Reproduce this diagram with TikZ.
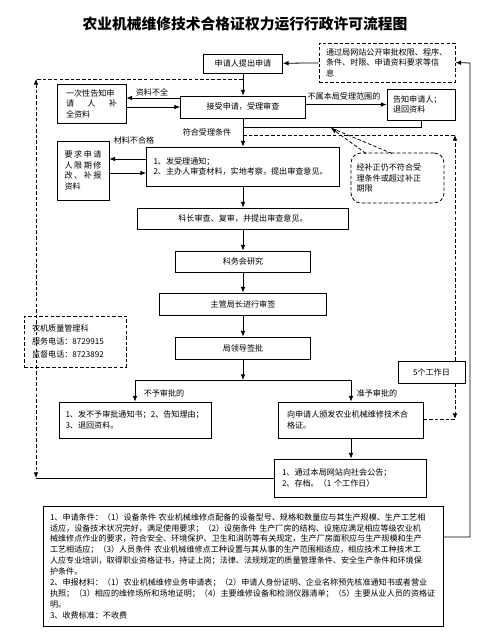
\documentclass[tikz,border=0pt]{standalone}
\usepackage{fontspec}
\setmainfont{Noto Sans CJK SC}
\usetikzlibrary{shapes, positioning, arrows.meta}

\begin{document}
\begin{tikzpicture}[
    x=0.05cm, y=-0.05cm,
    every node/.style={font=\fontsize{11.5}{15}\selectfont, text=black},
    proc/.style={rectangle, draw=black, line width=1.1pt, fill=none, text centered},
    info/.style={rectangle, draw=black, line width=1.1pt, dash pattern=on 5pt off 3pt,
        fill=none, align=left},
    answer/.style={rectangle, draw=none, fill=none, inner sep=1pt, text=black},
    link/.style={line width=1.1pt, ->},
    plain/.style={line width=1.1pt},
    dline/.style={line width=1.1pt, dash pattern=on 5pt off 3pt},
    >={Latex[length=8pt, width=6.5pt]}
]
\useasboundingbox (0,0) rectangle (498,635);

\node (Title) at (245,24) [font=\fontsize{21}{25}\selectfont\bfseries] {农业机械维修技术合格证权力运行行政许可流程图};

% main column
\node (Apply) [proc, minimum width=3.95cm, minimum height=0.95cm] at (243,63.5) {申请人提出申请};
\node (Accept) [proc, minimum width=6.25cm, minimum height=1.1cm] at (243,107) {接受申请，受理审查};
\node (Check) [proc, minimum width=9.65cm, minimum height=1.95cm, text width=8.95cm,
    align=left, inner xsep=0.35cm] at (243,166.5) {1、发受理通知；\\2、主办人审查材料，实地考察，提出审查意见。\\[-4pt]};
\node (Chief) [proc, minimum width=10.55cm, minimum height=1.05cm] at (243,218.5) {科长审查、复审，并提出审查意见。};
\node (Meet) [proc, minimum width=6.75cm, minimum height=1.05cm] at (243,261.5) {科务会研究};
\node (Sign) [proc, minimum width=8.35cm, minimum height=1.1cm] at (243,304) {主管局长进行审签};
\node (Approve) [proc, minimum width=6.75cm, minimum height=1.1cm] at (243,348) {局领导签批};

% side boxes
\node (Pub) [info, minimum width=6.8cm, minimum height=1.95cm, text width=6.1cm,
    inner xsep=0.35cm] at (387,62.5) {通过局网站公开审批权限、程序、\\条件、时限、申请资料要求等信\\息};
\node (Notify) [proc, minimum width=3.45cm, minimum height=1.95cm, text width=2.55cm,
    align=left, inner xsep=0.45cm] at (91.5,103.5) {一次性告知申\\\makebox[2.55cm]{请\hfill 人\hfill 补}\\全资料};
\node (Reject) [proc, minimum width=3.4cm, minimum height=1.55cm, text width=2.8cm,
    align=left, inner xsep=0.3cm] at (421,104.5) {告知申请人；\\退回资料};
\node (Fix) [proc, minimum width=2.6cm, minimum height=2.95cm, text width=1.85cm,
    align=left, inner xsep=0.375cm] at (83,170.5)
    {\makebox[1.85cm]{要\hfill 求\hfill 申\hfill 请}\\\makebox[1.85cm]{人\hfill 限\hfill 期\hfill 修}\\\makebox[1.85cm]{改\hfill 、\hfill 补\hfill 报}\\资料};
\node (Cloud) [info, rounded corners=0.5cm, minimum width=4.65cm, minimum height=2.5cm,
    text width=4.1cm, inner xsep=0.275cm, font=\fontsize{11.5}{14.5}\selectfont] at (397.5,178)
    {经补正仍不符合受\\理条件或超过补正\\期限};
\node (Tel) [info, minimum width=5.1cm, minimum height=2.55cm, text width=4.3cm,
    inner xsep=0.4cm, font=\fontsize{11.5}{19}\selectfont] at (75,341.5)
    {农机质量管理科\\服务电话：8729915\\监督电话：8723892};
\node (Days) [proc, minimum width=3.35cm, minimum height=1.1cm] at (431.5,372) {5个工作日};

% results
\node (Deny) [proc, minimum width=7.6cm, minimum height=1.8cm, text width=6.95cm,
    align=left, inner xsep=0.325cm] at (135,420) {1、发不予审批通知书；2、告知理由；\\3、退回资料。};
\node (Grant) [proc, minimum width=7.25cm, minimum height=1.8cm, text width=6.35cm,
    align=left, inner xsep=0.45cm] at (350.5,420) {向申请人颁发农业机械维修技术合\\格证。};
\node (Notice) [proc, minimum width=7.6cm, minimum height=1.9cm, text width=6.8cm,
    align=left, inner xsep=0.4cm] at (350,478) {1、通过本局网站向社会公告；\\2、存档。（1 个工作日）};
\node (Note) [proc, minimum width=20cm, minimum height=6cm, text width=19.3cm,
    align=left, inner xsep=0.35cm, font=\fontsize{11.5}{15.5}\selectfont] at (243,566)
    {1、申请条件：（1）设备条件 农业机械维修点配备的设备型号、规格和数量应与其生产规模、生产工艺相\\
     适应，设备技术状况完好，满足使用要求；（2）设施条件 生产厂房的结构、设施应满足相应等级农业机\\
     械维修点作业的要求，符合安全、环境保护、卫生和消防等有关规定，生产厂房面积应与生产规模和生产\\
     工艺相适应；（3）人员条件 农业机械维修点工种设置与其从事的生产范围相适应，相应技术工种技术工\\
     人应专业培训，取得职业资格证书，持证上岗；法律、法规规定的质量管理条件、安全生产条件和环境保\\
     护条件。\\
     2、申报材料：（1）农业机械维修业务申请表；（2）申请人身份证明、企业名称预先核准通知书或者营业\\
     执照；（3）相应的维修场所和场地证明；（4）主要维修设备和检测仪器清单；（5）主要从业人员的资格证\\
     明。\\
     3、收费标准：不收费};

% labels
\node (Lack) [answer] at (152,92) {资料不全};
\node (Out) [answer] at (344,96) {不属本局受理范围的};
\node (Fit) [answer] at (207,132) {符合受理条件};
\node (Bad) [answer] at (134,140) {材料不合格};
\node (No) [answer] at (164,393) {不予审批的};
\node (Yes) [answer] at (377,393) {准予审批的};

% helper points
\coordinate (yA) at (0,98);
\coordinate (yB) at (0,107);
\coordinate (yC) at (0,159);
\coordinate (yD) at (0,173);
\coordinate (Jn) at (243,127);
\coordinate (Br) at (243,380);
\coordinate (BrL) at (135,380);
\coordinate (BrR) at (351,380);
\coordinate (L1) at (36,79);
\coordinate (L2) at (36,478);
\coordinate (T1) at (455,135);
\coordinate (T2) at (455,419);
\coordinate (R1) at (470,537);
\coordinate (R2) at (470,63);
\coordinate (Hook) at (331,128);
\coordinate (CloudA) at (366,153.5);
\coordinate (CloudB) at (392,153.5);

% main flow
\draw[link] (Apply) -- (Accept);
\draw[link] (Accept) -- (Check);
\draw[link] (Check) -- (Chief);
\draw[link] (Chief) -- (Meet);
\draw[link] (Meet) -- (Sign);
\draw[link] (Sign) -- (Approve);
\draw[link] (Approve) -- (Br);
\draw[plain] (BrL) -- (BrR);
\draw[link] (BrL) -- (Deny);
\draw[link] (BrR) -- (Grant.north -| BrR);
\draw[link] (Grant.south -| BrR) -- (Notice.north -| BrR);
\draw[link] (Pub) -- (Apply);

% side flows
\draw[link] (Accept.west |- yA) -- (Notify.east |- yA);
\draw[link] (Notify.east |- yB) -- (Accept.west |- yB);
\draw[link] (Accept.east |- Reject.west) -- (Reject.west);
\draw[plain] (Reject.south) |- (Jn);
\draw[link] (Check.west |- yC) -- (Fix.east |- yC);
\draw[link] (Fix.east |- yD) -- (Check.west |- yD);
\draw[plain] (Notice.west) -- (Notice.west -| L2);
\draw[link] (Note.east |- R1) -- (R1) -- (R2) -- (Pub.east);

% time limits
\draw[dline] (Apply.south |- L1) -- (L1);
\draw[dline, <->] (L1) -- (L2);
\draw[dline] (Accept.south |- T1) -- (T1);
\draw[dline, ->] (Days.north -| T1) -- (T1);
\draw[dline, ->] (Days.south -| T1) -- (T2);
\draw[dline] (T2) -- (Grant.east |- T2);

% callout
\draw[dline, ->] (CloudA) -- (Hook);
\draw[dline] (CloudB) -- (Hook);

\end{tikzpicture}
\end{document}
